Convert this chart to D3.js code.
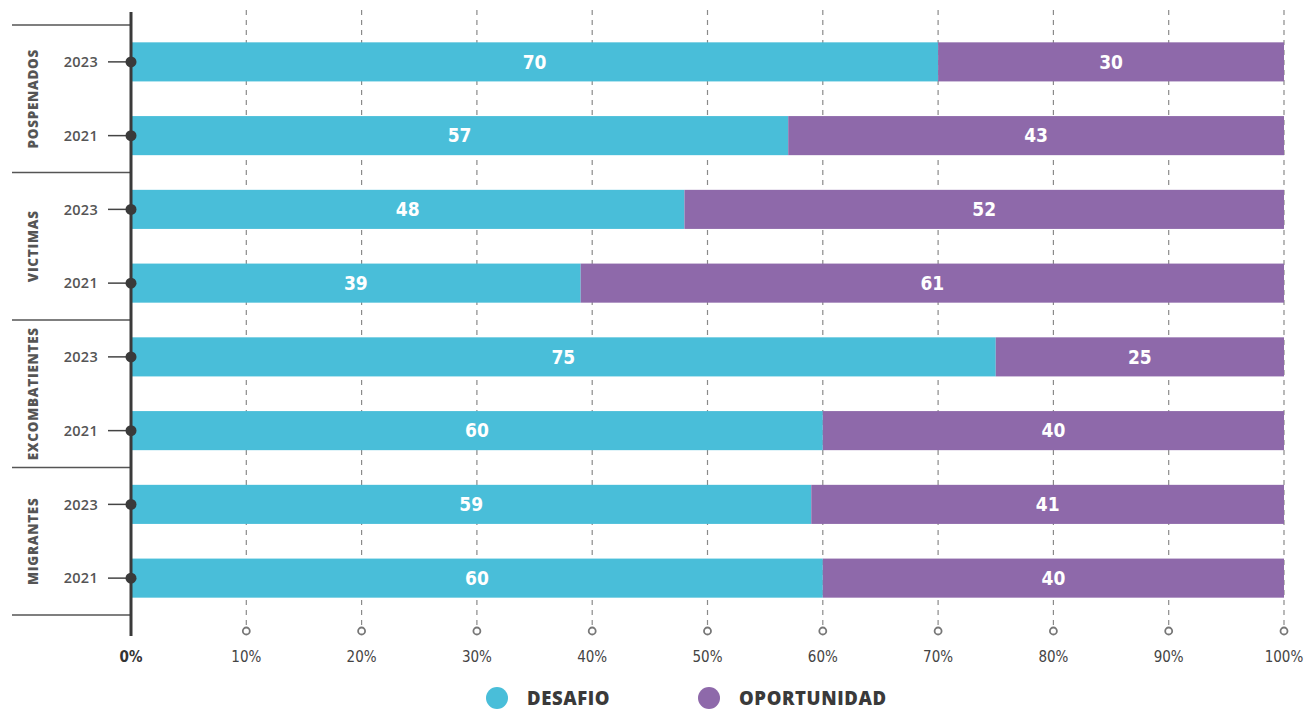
<!DOCTYPE html>
<html><head><meta charset="utf-8">
<script src="https://cdn.jsdelivr.net/npm/d3@7/dist/d3.min.js"></script>
<style>body{margin:0;background:#fff}svg{display:block}.cond{font-family:'Liberation Sans Narrow','DejaVu Sans Condensed',sans-serif;font-stretch:condensed}</style>
</head><body><svg id="c" width="1304" height="709"></svg>
<script>
const groups = ["POSPENADOS","VICTIMAS","EXCOMBATIENTES","MIGRANTES"];
const years = ["2023","2021"];
const desafio = [70,57,48,39,75,60,59,60];
const oportunidad = [30,43,52,61,25,40,41,40];
const ticks = [0,10,20,30,40,50,60,70,80,90,100];
const seriesNames = ["DESAFIO","OPORTUNIDAD"];
const colors = ["#49BED9","#8E69AA"];

const rows = [];
groups.forEach((g,gi)=>years.forEach((y,yi)=>rows.push({g,y,i:gi*2+yi})));

const svg = d3.select("#c");
const x = d3.scaleLinear().domain([0,100]).range([131,1284]);
const yb = d3.scaleBand().domain(rows.map(r=>r.i)).range([25,615]).paddingInner(0.47).paddingOuter(0.235);
const gy = d3.scaleBand().domain(groups).range([25,615]);

// grid
svg.append("g").selectAll("line").data(ticks.slice(1)).join("line")
  .attr("x1",d=>x(d)).attr("x2",d=>x(d)).attr("y1",10).attr("y2",625)
  .attr("stroke","#8a8a8a").attr("stroke-width",1.2).attr("stroke-dasharray","5,5");
svg.append("g").selectAll("circle").data(ticks.slice(1)).join("circle")
  .attr("cx",d=>x(d)).attr("cy",631).attr("r",3.5).attr("fill","#fff")
  .attr("stroke","#777").attr("stroke-width",1.8);

// bars
const bars = svg.append("g");
rows.forEach(r=>{
  const d = desafio[r.i], o = oportunidad[r.i];
  const y0 = yb(r.i), h = yb.bandwidth();
  bars.append("rect").attr("x",x(0)).attr("y",y0).attr("width",x(d)-x(0)).attr("height",h).attr("fill",colors[0]);
  bars.append("rect").attr("x",x(d)).attr("y",y0).attr("width",x(d+o)-x(d)).attr("height",h).attr("fill",colors[1]);
  bars.append("text").attr("class","cond").attr("x",(x(0)+x(d))/2).attr("y",y0+h/2).attr("dy","0.36em").attr("text-anchor","middle")
    .attr("font-weight","bold").attr("font-size",19).attr("fill","#fff").text(d);
  bars.append("text").attr("class","cond").attr("x",(x(d)+x(d+o))/2).attr("y",y0+h/2).attr("dy","0.36em").attr("text-anchor","middle")
    .attr("font-weight","bold").attr("font-size",19).attr("fill","#fff").text(o);
});

// group separators
const seps = groups.map(g=>gy(g)).concat([615]);
svg.append("g").selectAll("line").data(seps).join("line")
  .attr("x1",12).attr("x2",131).attr("y1",d=>d).attr("y2",d=>d)
  .attr("stroke","#555").attr("stroke-width",1.5);

// group labels
svg.append("g").selectAll("text").data(groups).join("text")
  .attr("transform",d=>`translate(33,${gy(d)+gy.bandwidth()/2}) rotate(-90)`)
  .attr("text-anchor","middle").attr("dy","0.35em")
  .attr("font-family","'Open Sans',sans-serif").attr("font-weight","800").attr("font-size",13.5)
  .attr("letter-spacing",0.7).attr("fill","#555").text(d=>d);

// year ticks
const yt = svg.append("g");
rows.forEach(r=>{
  const cy = yb(r.i)+yb.bandwidth()/2;
  yt.append("line").attr("x1",108).attr("x2",131).attr("y1",cy).attr("y2",cy).attr("stroke","#444").attr("stroke-width",1.5);
  yt.append("text").attr("x",98).attr("y",cy).attr("dy","0.36em").attr("text-anchor","end")
    .attr("font-family","'Open Sans',sans-serif").attr("font-weight","600").attr("font-size",14.5).attr("letter-spacing",0.3).attr("fill","#555").text(r.y);
});

// axis line
svg.append("line").attr("x1",131).attr("x2",131).attr("y1",12).attr("y2",636).attr("stroke","#3a3a3a").attr("stroke-width",3);
svg.append("g").selectAll("circle").data(rows).join("circle").attr("cx",131).attr("cy",r=>yb(r.i)+yb.bandwidth()/2).attr("r",5.5).attr("fill","#3a3a3a");

// x tick labels
svg.append("g").selectAll("text").data(ticks).join("text").attr("class","cond")
  .attr("x",d=>x(d)).attr("y",657).attr("dy","0.36em").attr("text-anchor","middle")
  .attr("font-size",15).attr("font-weight",d=>d===0?"bold":"normal")
  .attr("fill",d=>d===0?"#333":"#444").text(d=>d+"%");

// legend
const lx = [497,709];
const lg = svg.append("g");
seriesNames.forEach((s,i)=>{
  lg.append("circle").attr("cx",lx[i]).attr("cy",698).attr("r",11).attr("fill",colors[i]);
  lg.append("text").attr("x",lx[i]+30).attr("y",698).attr("dy","0.36em")
    .attr("font-family","'Open Sans',sans-serif").attr("font-weight","800").attr("font-size",18.5).attr("letter-spacing",0.6).attr("fill","#3a3a3a").text(s);
});
</script></body></html>
